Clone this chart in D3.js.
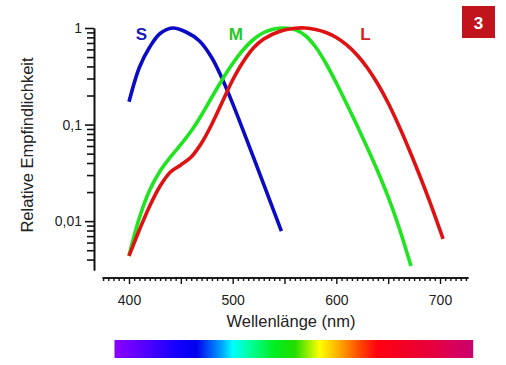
<!DOCTYPE html>
<html>
 <head>
    <title>Zapfen-Empfindlichkeit</title>
    <script src="https://d3js.org/d3.v7.min.js"></script>
    <style>
      body { margin: 0; background: #fff; }
      text { font-family: Arial, "Liberation Sans", sans-serif; }
    </style>
 </head>
 <body>
    <div id="chart"></div>
    <script>
      // cone sensitivity curves (wavelength in nm, relative sensitivity)
      var sNm  = [400, 410, 420, 430, 442, 455, 468, 480, 490, 500, 520, 547];
      var sVal = [0.172, 0.39, 0.636, 0.877, 1.0, 0.909, 0.733, 0.489, 0.2965, 0.165, 0.046, 0.0079];

      var mNm  = [400, 410, 420, 430, 440, 450, 460, 470, 480, 490, 500, 510, 520, 530, 540, 550,
                  560, 570, 580, 590, 600, 610, 620, 630, 640, 650, 660, 672];
      var mVal = [0.00436, 0.0108, 0.0210, 0.0331, 0.0462, 0.0622, 0.0858, 0.1257, 0.193, 0.293, 0.429, 0.592, 0.760, 0.898, 0.977, 1.0,
                  0.965, 0.836, 0.636, 0.429, 0.2695, 0.1633, 0.0978, 0.0572, 0.0327, 0.0178, 0.0089, 0.00343];

      var lNm  = [400, 410, 420, 430, 440, 450, 460, 470, 480, 490, 500, 510, 520, 530, 545, 560, 570,
                  580, 590, 600, 610, 620, 630, 640, 650, 660, 670, 680, 690, 703];
      var lVal = [0.00436, 0.0081, 0.01436, 0.0231, 0.0323, 0.0382, 0.0462, 0.0645, 0.1014, 0.1713, 0.2895, 0.4447, 0.621, 0.769, 0.920, 0.993, 1.0,
                  0.965, 0.898, 0.797, 0.667, 0.525, 0.385, 0.263, 0.1673, 0.099, 0.0559, 0.0304, 0.016, 0.00654];

      var seriesNames  = ["S", "M", "L"];
      var seriesColors = ["#0b0bc6", "#1fe41f", "#de1212"];
      var labelColors  = ["#1a1ab0", "#25c825", "#d42222"];
      var labelNm      = [412, 503, 628];

      // axis ticks
      var yMajor = [1, 0.1, 0.01];
      var xLabels = [400, 500, 600, 700];

      // spectrum bar colour stops
      var spectrumNm = [386, 420, 445, 465, 490, 500, 517, 540, 560, 584, 606, 622, 640, 690, 732];
      var spectrumColors = ["#8c00ff", "#4a00ff", "#1400ff", "#0000ee", "#00a8ff", "#00ffff", "#00ff99",
                            "#00ee22", "#22dd00", "#ffff00", "#ff9a00", "#ff4a00", "#ff0010", "#e8003a", "#cc0070"];

      var width = 506, height = 365;

      var svg = d3.select("#chart").append("svg")
        .attr("width", width)
        .attr("height", height)
        .style("background", "#fff");

      var x = d3.scaleLinear()
        .domain([374, 727])
        .range([129 - 26 * 1.0367, 129 + 327 * 1.0367]);

      var y = d3.scaleLog()
        .domain([0.00312, 1])
        .range([270, 28]);

      // y axis: minor then major ticks
      var yMinor = [];
      [0.001, 0.01, 0.1].forEach(function (b) {
        for (var k = 2; k <= 9; k++) {
          var v = +(b * k).toPrecision(3);
          if (v >= 0.00312 && v < 1) yMinor.push(v);
        }
      });

      var yAxisG = svg.append("g").attr("transform", "translate(94,0)");
      yAxisG.call(d3.axisLeft(y).tickValues(yMinor).tickSize(7).tickSizeOuter(0).tickFormat(""));
      yAxisG.append("g").call(d3.axisLeft(y).tickValues(yMajor).tickSize(9).tickSizeOuter(0)
        .tickPadding(3)
        .tickFormat(function (d) { return String(d).replace(".", ","); }));
      yAxisG.selectAll(".domain, line").attr("stroke", "#111").attr("stroke-width", 1.6);
      yAxisG.selectAll("text").attr("font-size", 14).attr("fill", "#222")
        .attr("font-family", "Arial, 'Liberation Sans', sans-serif");

      // x axis: minor every 5 nm, major every 50 nm
      var xMinor = d3.range(375, 727, 5).filter(function (d) { return d % 50 !== 0; });
      var xMajor = d3.range(400, 727, 50);

      var xAxisG = svg.append("g").attr("transform", "translate(0,277.5)");
      xAxisG.call(d3.axisBottom(x).tickValues(xMinor).tickSize(3.5).tickSizeOuter(0).tickFormat(""));
      xAxisG.append("g").call(d3.axisBottom(x).tickValues(xMajor).tickSize(6.5).tickSizeOuter(0)
        .tickPadding(11)
        .tickFormat(function (d) { return xLabels.indexOf(d) >= 0 ? d : ""; }));
      xAxisG.selectAll(".domain, line").attr("stroke", "#111").attr("stroke-width", 1.4);
      xAxisG.selectAll("text").attr("font-size", 14).attr("fill", "#222")
        .attr("font-family", "Arial, 'Liberation Sans', sans-serif");

      // curves
      var line = d3.line()
        .x(function (d) { return x(d[0]); })
        .y(function (d) { return y(d[1]); })
        .curve(d3.curveCatmullRom.alpha(0.5));

      var series = [d3.zip(sNm, sVal), d3.zip(mNm, mVal), d3.zip(lNm, lVal)];

      svg.selectAll(".curve")
        .data(series)
        .enter()
        .append("path")
        .attr("class", "curve")
        .attr("d", line)
        .attr("fill", "none")
        .attr("stroke", function (d, i) { return seriesColors[i]; })
        .attr("stroke-width", 3.6)
        .attr("stroke-linecap", "butt")
        .attr("stroke-linejoin", "round");

      svg.selectAll(".series-label")
        .data(seriesNames)
        .enter()
        .append("text")
        .attr("class", "series-label")
        .attr("x", function (d, i) { return x(labelNm[i]); })
        .attr("y", 40)
        .attr("text-anchor", "middle")
        .attr("font-size", 17)
        .attr("font-weight", "bold")
        .attr("fill", function (d, i) { return labelColors[i]; })
        .text(function (d) { return d; });

      // axis titles
      svg.append("text")
        .attr("transform", "translate(33,145) rotate(-90)")
        .attr("text-anchor", "middle")
        .attr("font-size", 16.5)
        .attr("fill", "#222")
        .text("Relative Empfindlichkeit");

      svg.append("text")
        .attr("x", 291)
        .attr("y", 327)
        .attr("text-anchor", "middle")
        .attr("font-size", 16.5)
        .attr("fill", "#222")
        .text("Wellenlänge (nm)");

      // spectrum bar
      var grad = svg.append("defs").append("linearGradient")
        .attr("id", "spectrum")
        .attr("gradientUnits", "userSpaceOnUse")
        .attr("x1", x(spectrumNm[0])).attr("x2", x(spectrumNm[spectrumNm.length - 1]))
        .attr("y1", 0).attr("y2", 0);
      grad.selectAll("stop")
        .data(spectrumNm)
        .enter()
        .append("stop")
        .attr("offset", function (d) {
          return (x(d) - x(spectrumNm[0])) / (x(spectrumNm[spectrumNm.length - 1]) - x(spectrumNm[0]));
        })
        .attr("stop-color", function (d, i) { return spectrumColors[i]; });

      svg.append("rect")
        .attr("x", x(spectrumNm[0]))
        .attr("y", 340)
        .attr("width", x(spectrumNm[spectrumNm.length - 1]) - x(spectrumNm[0]))
        .attr("height", 18)
        .attr("fill", "url(#spectrum)");

      // figure number badge
      svg.append("rect")
        .attr("x", 462).attr("y", 6)
        .attr("width", 33).attr("height", 32)
        .attr("fill", "#c2141c");
      svg.append("text")
        .attr("x", 478.5).attr("y", 28.5)
        .attr("text-anchor", "middle")
        .attr("font-size", 17)
        .attr("font-weight", "bold")
        .attr("fill", "#fff")
        .text("3");
    </script>
 </body>
</html>
